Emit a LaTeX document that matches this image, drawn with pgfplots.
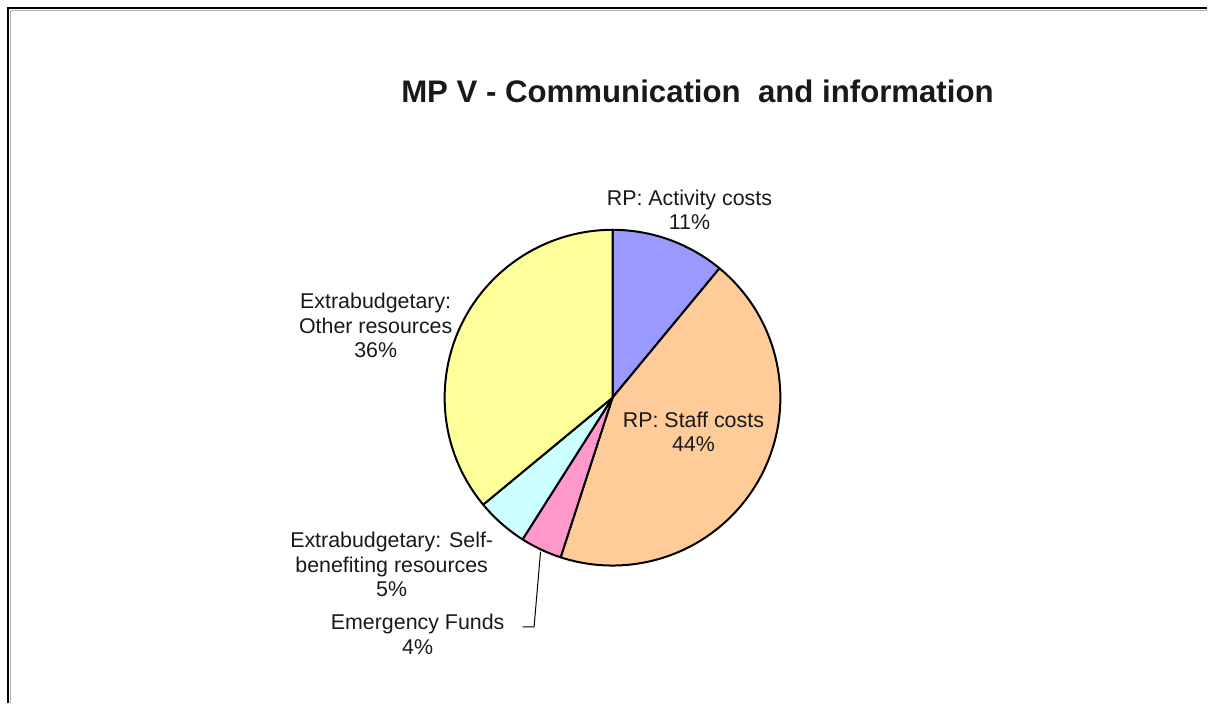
\documentclass[border=0pt]{standalone}
\usepackage{pgfplots}
\pgfplotsset{compat=1.18}
\usepackage{pgfplotstable}
\usepackage{fontspec}
\setmainfont{Liberation Sans}
\definecolor{cA}{HTML}{9999FF}
\definecolor{cB}{HTML}{FFCC99}
\definecolor{cC}{HTML}{FF99CC}
\definecolor{cD}{HTML}{CCFFFF}
\definecolor{cE}{HTML}{FFFF99}
\pgfplotstableread{
value color
11 cA
44 cB
4 cC
5 cD
36 cE
}\piedata
\begin{document}
\begin{tikzpicture}
\begin{axis}[
  width=604pt, height=352pt, scale only axis,
  xmin=0, xmax=1208, ymin=0, ymax=704, y dir=reverse,
  hide axis, clip=false,
]
\addplot[draw=none] coordinates {(0,0) (1208,704)};
\pgfplotsextra{
  \def\cum{0}
  \pgfplotsforeachungrouped \i in {0,...,4} {
    \pgfplotstablegetelem{\i}{value}\of\piedata \let\v=\pgfplotsretval
    \pgfplotstablegetelem{\i}{color}\of\piedata \let\c=\pgfplotsretval
    \pgfmathsetmacro\aone{90-3.6*\cum}
    \pgfmathsetmacro\atwo{90-3.6*(\cum+\v)}
    \filldraw[fill=\c, draw=black, line width=1pt, line join=round]
      (axis cs:613,398) -- ++(\aone:84pt) arc[start angle=\aone, end angle=\atwo, radius=84pt] -- cycle;
    \pgfmathsetmacro\cum{\cum+\v}
    \global\let\cum=\cum
  }
  % frame
  \draw[gray!60, line width=0.6pt] (axis cs:10.2,704) -- (axis cs:10.2,10.2) -- (axis cs:1208,10.2);
  \draw[black, line width=1pt] (axis cs:8.5,704) -- (axis cs:8.5,8.5) -- (axis cs:1208,8.5);
  % leader line
  \draw[black, line width=0.5pt] (axis cs:541,552) -- (axis cs:534.5,627.5) -- (axis cs:523,627.5);
}
\begin{scope}[every node/.style={align=center, font=\fontsize{10.7}{12.25}\selectfont, text=black!90}]
\node at (axis cs:690,210) {RP: Activity costs\\11\%};
\node at (axis cs:376,326) {Extrabudgetary:\\Other resources\\36\%};
\node at (axis cs:694,432) {RP: Staff costs\\44\%};
\node at (axis cs:392,565) {Extrabudgetary: Self-\\benefiting resources\\5\%};
\node at (axis cs:418,635) {Emergency Funds\\4\%};
\node[font=\bfseries\fontsize{15.6}{18}\selectfont] at (axis cs:698,91) {MP V - Communication\ \ and information};
\end{scope}
\end{axis}
\end{tikzpicture}
\end{document}
